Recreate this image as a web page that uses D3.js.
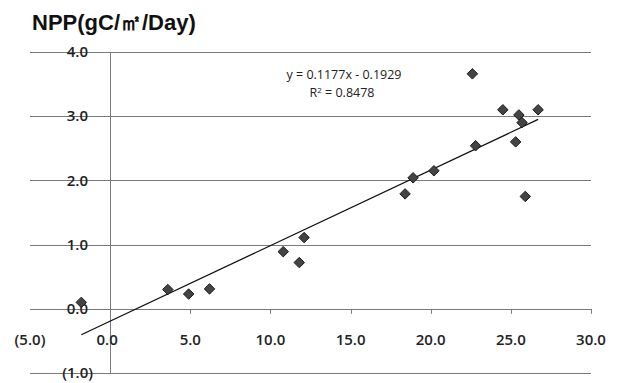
<!DOCTYPE html>
<html>
<head>
<meta charset="utf-8">
<script src="https://d3js.org/d3.v7.min.js"></script>
<style>
  body { margin: 0; background: #fff; }
  svg { display: block; }
  .tick-label { font: 600 15px "Open Sans", sans-serif; fill: #222; }
  .eq { font: 12.5px "Open Sans", sans-serif; fill: #222; }
  .title { font: bold 22px "Liberation Sans", Arial, sans-serif; fill: #111; }
</style>
</head>
<body>
<svg width="619" height="383"></svg>
<script>
// data
var xValues = [-1.8, 3.6, 4.9, 6.2, 10.8, 11.8, 12.1, 18.4, 18.9, 20.2, 22.6, 22.8, 24.5, 25.3, 25.5, 25.7, 25.9, 26.7];
var yValues = [0.10, 0.30, 0.23, 0.31, 0.89, 0.72, 1.11, 1.79, 2.04, 2.15, 3.66, 2.54, 3.10, 2.60, 3.02, 2.90, 1.75, 3.10];
var xTicks = [-5, 0, 5, 10, 15, 20, 25, 30];
var yTicks = [-1, 0, 1, 2, 3, 4];
var slope = 0.1177, intercept = -0.1929, r2 = 0.8478;
var titleText = "NPP(gC/\u33A1/Day)";

var svg = d3.select("svg");

var x = d3.scaleLinear().domain([-5, 30]).range([30, 591]);
var y = d3.scaleLinear().domain([-1, 4]).range([373, 52]);

function fmt(v) {
  var s = Math.abs(v).toFixed(1);
  return v < 0 ? "(" + s + ")" : s;
}

// horizontal gridlines
svg.append("g")
  .selectAll("line")
  .data(yTicks)
  .enter()
  .append("line")
  .attr("x1", x(-5))
  .attr("x2", x(30))
  .attr("y1", function (d) { return Math.round(y(d)) + 0.5; })
  .attr("y2", function (d) { return Math.round(y(d)) + 0.5; })
  .attr("stroke", "#7a7a7a")
  .attr("stroke-width", 1);

// vertical axis at x = 0
svg.append("line")
  .attr("x1", Math.round(x(0)) + 0.5)
  .attr("x2", Math.round(x(0)) + 0.5)
  .attr("y1", y(4))
  .attr("y2", y(-1))
  .attr("stroke", "#7a7a7a");

// tick marks on the zero line
svg.append("g")
  .selectAll("line")
  .data(xTicks.filter(function (d) { return d > 0; }))
  .enter()
  .append("line")
  .attr("x1", function (d) { return Math.round(x(d)) + 0.5; })
  .attr("x2", function (d) { return Math.round(x(d)) + 0.5; })
  .attr("y1", y(0))
  .attr("y2", y(0) + 5)
  .attr("stroke", "#7a7a7a");

// y tick labels, sitting on the gridlines
svg.append("g")
  .selectAll("text")
  .data(yTicks)
  .enter()
  .append("text")
  .attr("class", "tick-label")
  .attr("x", function (d) { return d < 0 ? 93 : 88; })
  .attr("y", function (d) { return y(d); })
  .attr("dy", "0.35em")
  .attr("text-anchor", "end")
  .text(fmt);

// x tick labels
svg.append("g")
  .selectAll("text")
  .data(xTicks)
  .enter()
  .append("text")
  .attr("class", "tick-label")
  .attr("x", function (d) { return d === 0 ? x(d) - 3 : x(d); })
  .attr("y", 340)
  .attr("dy", "0.35em")
  .attr("text-anchor", "middle")
  .text(fmt);

// trend line
var x0 = d3.min(xValues), x1 = d3.max(xValues);
svg.append("line")
  .attr("x1", x(x0))
  .attr("y1", y(slope * x0 + intercept))
  .attr("x2", x(x1))
  .attr("y2", y(slope * x1 + intercept))
  .attr("stroke", "#111")
  .attr("stroke-width", 1.3);

// diamonds
var pts = d3.range(xValues.length).map(function (i) { return [xValues[i], yValues[i]]; });
svg.append("g")
  .selectAll("path")
  .data(pts)
  .enter()
  .append("path")
  .attr("d", d3.symbol().type(d3.symbolDiamond2).size(70))
  .attr("transform", function (d) { return "translate(" + x(d[0]) + "," + y(d[1]) + ")"; })
  .attr("fill", "#444")
  .attr("stroke", "#1a1a1a")
  .attr("stroke-width", 1);

// equation
svg.append("text")
  .attr("class", "eq")
  .attr("x", 344)
  .attr("y", 75)
  .attr("dy", "0.35em")
  .attr("text-anchor", "middle")
  .text("y = " + slope + "x - " + Math.abs(intercept));
svg.append("text")
  .attr("class", "eq")
  .attr("x", 342)
  .attr("y", 93)
  .attr("dy", "0.35em")
  .attr("text-anchor", "middle")
  .html("R<tspan dy='-4' font-size='8'>2</tspan><tspan dy='4'> = " + r2 + "</tspan>");

// title
svg.append("text")
  .attr("class", "title")
  .attr("x", 32)
  .attr("y", 30)
  .text(titleText);
</script>
</body>
</html>
